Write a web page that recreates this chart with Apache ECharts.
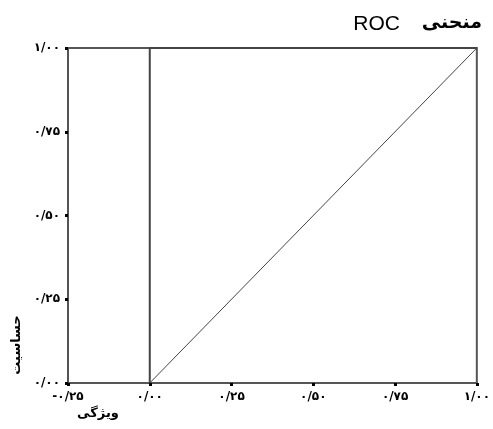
<!DOCTYPE html>
<html><head><meta charset="utf-8">
<script src="https://cdn.jsdelivr.net/npm/echarts@6/dist/echarts.min.js"></script>
<style>html,body{margin:0;padding:0;background:#fff}#c{width:493px;height:429px}</style>
</head><body><div id="c"></div>
<script>
const titleWord = 'منحنی';
const titleAbbr = 'ROC';
const xTickValues = [-0.25, 0, 0.25, 0.5, 0.75, 1];
const xTickLabels = ['-۰/۲۵', '۰/۰۰', '۰/۲۵', '۰/۵۰', '۰/۷۵', '۱/۰۰'];
const yTickValues = [0, 0.25, 0.5, 0.75, 1];
const yTickLabels = ['۰/۰۰', '۰/۲۵', '۰/۵۰', '۰/۷۵', '۱/۰۰'];
const rocX = [0, 0, 1];
const rocY = [0, 1, 1];
const refX = [0, 1];
const refY = [0, 1];

function lab(vals, labels) {
  return function (v) {
    for (let i = 0; i < vals.length; i++) if (Math.abs(vals[i] - v) < 1e-9) return labels[i];
    return '';
  };
}
const chart = echarts.init(document.getElementById('c'));
chart.setOption({
  animation: false,
  title: [
    { text: titleWord, right: 6, top: 9, textStyle: { fontFamily: 'DejaVu Sans', fontSize: 19, fontWeight: 'bold', color: '#000' } },
    { text: titleAbbr, right: 88, top: 9, textStyle: { fontFamily: 'Liberation Sans', fontSize: 21, fontWeight: 'normal', color: '#000' } }
  ],
  grid: { left: 68, right: 6, top: 48, bottom: 46, show: true, borderColor: '#555', borderWidth: 2 },
  xAxis: {
    type: 'value', min: -0.25, max: 1, interval: 0.25,
    name: 'ویژگی', nameLocation: 'start', nameGap: -30,
    nameTextStyle: { fontFamily: 'DejaVu Sans', fontWeight: 'bold', fontSize: 13, color: '#000', align: 'center', verticalAlign: 'top', padding: [24, 0, 0, 0] },
    axisLine: { onZero: false, lineStyle: { color: '#555', width: 2 } },
    axisTick: { show: true, length: 3, lineStyle: { color: '#000', width: 3 } },
    axisLabel: { formatter: lab(xTickValues, xTickLabels), fontFamily: 'DejaVu Sans', fontWeight: 'bold', fontSize: 12, color: '#000', margin: 8 },
    splitLine: { show: false }
  },
  yAxis: {
    type: 'value', min: 0, max: 1, interval: 0.25,
    name: 'حساسیت', nameLocation: 'start', nameRotate: 90, nameGap: -38,
    nameTextStyle: { fontFamily: 'DejaVu Sans', fontWeight: 'bold', fontSize: 13, color: '#000', align: 'center', verticalAlign: 'bottom', padding: [0, 0, 45, 0] },
    axisLine: { onZero: false, lineStyle: { color: '#555', width: 2 } },
    axisTick: { show: true, length: 3, lineStyle: { color: '#000', width: 3 } },
    axisLabel: { formatter: lab(yTickValues, yTickLabels), fontFamily: 'DejaVu Sans', fontWeight: 'bold', fontSize: 12, color: '#000', margin: 8 },
    splitLine: { show: false }
  },
  series: [
    { type: 'line', data: refX.map((x, i) => [x, refY[i]]), symbol: 'none', lineStyle: { color: '#444', width: 1 } },
    { type: 'line', data: rocX.map((x, i) => [x, rocY[i]]), symbol: 'none', lineStyle: { color: '#444', width: 2 } }
  ]
});
</script></body></html>
